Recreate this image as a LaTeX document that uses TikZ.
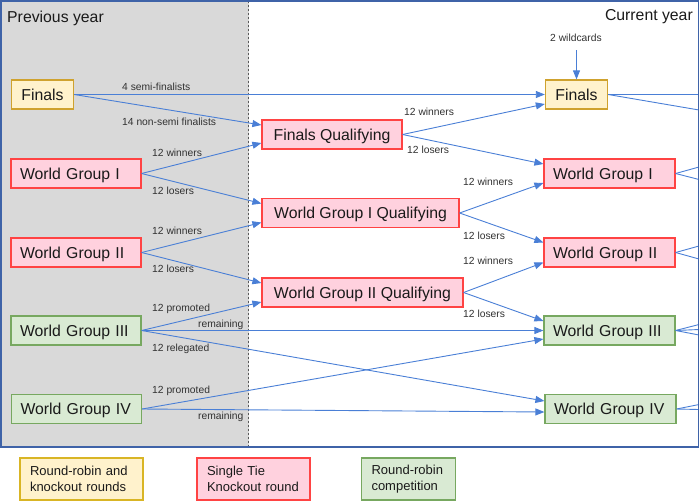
\documentclass[tikz,border=0pt]{standalone}
\usepackage{fontspec}
\setmainfont{Liberation Sans}
\usetikzlibrary{arrows.meta,calc}
\definecolor{framec}{HTML}{3F63A8}
\definecolor{connc}{HTML}{4A7FD6}
\definecolor{grayfill}{HTML}{D9D9D9}
\definecolor{yfill}{HTML}{FFF2CC}
\definecolor{ydraw}{HTML}{CFA22E}
\definecolor{pfill}{HTML}{FFD1DE}
\definecolor{pdraw}{HTML}{FF4343}
\definecolor{gfill}{HTML}{D9EAD3}
\definecolor{gdraw}{HTML}{77A860}
\definecolor{txt}{HTML}{1A1A1A}
\begin{document}
\begin{tikzpicture}[x=1pt,y=-1pt,
  box/.style={draw, line width=1.2pt, inner xsep=10pt, inner ysep=0pt,
    minimum height=29pt, text height=11.3pt, text depth=0pt,
    font=\fontsize{15.8}{18}\selectfont, text=txt},
  ybox/.style={box, fill=yfill, draw=ydraw},
  pbox/.style={box, fill=pfill, draw=pdraw},
  gbox/.style={box, fill=gfill, draw=gdraw},
  wg/.style={inner xsep=9pt, text width=112pt, align=left},
  cwg/.style={inner xsep=9pt, text width=113pt, align=left},
  legend/.style={draw, line width=1.2pt, inner xsep=10pt, inner ysep=0pt,
    minimum height=42pt, align=left, font=\fontsize{13}{16}\selectfont, text=txt},
  lbl/.style={inner sep=0pt, text height=7.5pt, text depth=0pt,
    font=\fontsize{10.3}{12}\selectfont, text=txt!90},
  conn/.style={draw=connc, line width=0.9pt, -{Triangle[length=9pt,width=7pt]}},
  exitline/.style={draw=connc, line width=0.9pt},
  title/.style={inner sep=0pt, font=\fontsize{15.8}{18}\selectfont, text=txt}
]
\useasboundingbox (0,0) rectangle (700,501);
% background areas
\fill[grayfill] (1,1) rectangle (248.5,447);
\draw[gray!70!black, line width=0.9pt, dash pattern=on 2pt off 2pt] (248.5,1) -- (248.5,447);

% titles
\node[title, anchor=base west] (tprev) at (7,22) {Previous year};
\node[title, anchor=base east] (tcur) at (693,20.5) {Current year};

% previous year
\node[ybox] (pFin) at (42.5,94.5) {Finals};
\node[pbox, wg] (pWG1) at (76,173.5) {World Group I};
\node[pbox, wg] (pWG2) at (76,252.5) {World Group II};
\node[gbox, wg] (pWG3) at (76,330.5) {World Group III};
\node[gbox, wg] (pWG4) at (76.5,409) {World Group IV};

% qualifying
\node[pbox, minimum width=140pt] (FQ) at (332,134.5) {Finals Qualifying};
\node[pbox, minimum width=197pt] (Q1) at (360.5,213) {World Group I Qualifying};
\node[pbox, minimum width=201pt] (Q2) at (362.5,292.5) {World Group II Qualifying};

% current year
\node[ybox] (cFin) at (576.5,94.5) {Finals};
\node[pbox, cwg] (cWG1) at (609.5,173.5) {World Group I};
\node[pbox, cwg] (cWG2) at (609.5,252.5) {World Group II};
\node[gbox, cwg] (cWG3) at (609.5,330.5) {World Group III};
\node[gbox, cwg] (cWG4) at (610.5,409) {World Group IV};

% wildcards
\node[lbl, anchor=west] (wild) at (550,38) {2 wildcards};
\coordinate (wildtop) at (576.5,50);
\draw[conn] (wildtop) -- (cFin.north);

% connectors previous -> current
\draw[conn] (pFin.east) -- (cFin.west);
\draw[conn] (pFin.east) -- ($(FQ.west)+(0,-9.5)$);
\draw[conn] (pWG1.east) -- ($(FQ.west)+(0,8.5)$);
\draw[conn] (pWG1.east) -- ($(Q1.west)+(0,-9.5)$);
\draw[conn] (pWG2.east) -- ($(Q1.west)+(0,9.5)$);
\draw[conn] (pWG2.east) -- ($(Q2.west)+(0,-9.5)$);
\draw[conn] (pWG3.east) -- ($(Q2.west)+(0,9.5)$);
\draw[conn] (pWG3.east) -- (cWG3.west);
\draw[conn] (pWG3.east) -- ($(cWG4.west)+(0,-8)$);
\draw[conn] (pWG4.east) -- ($(cWG3.west)+(0,8.5)$);
\draw[conn] (pWG4.east) -- ($(cWG4.west)+(0,3)$);
\draw[conn] (FQ.east) -- ($(cFin.west)+(0,9.5)$);
\draw[conn] (FQ.east) -- ($(cWG1.west)+(0,-9.5)$);
\draw[conn] (Q1.east) -- ($(cWG1.west)+(0,9.5)$);
\draw[conn] (Q1.east) -- ($(cWG2.west)+(0,-10)$);
\draw[conn] (Q2.east) -- ($(cWG2.west)+(0,10)$);
\draw[conn] (Q2.east) -- ($(cWG3.west)+(0,-9.5)$);

% labels
\node[lbl, anchor=west] (l1) at (122,87) {4 semi-finalists};
\node[lbl, anchor=west] (l2) at (122,122) {14 non-semi finalists};
\node[lbl, anchor=west] (l3) at (152,153) {12 winners};
\node[lbl, anchor=west] (l4) at (152,191) {12 losers};
\node[lbl, anchor=west] (l5) at (152,231) {12 winners};
\node[lbl, anchor=west] (l6) at (152,269) {12 losers};
\node[lbl, anchor=west] (l7) at (152,308) {12 promoted};
\node[lbl, anchor=west] (l8) at (198,324) {remaining};
\node[lbl, anchor=west] (l9) at (152,348) {12 relegated};
\node[lbl, anchor=west] (l10) at (152,390) {12 promoted};
\node[lbl, anchor=west] (l11) at (198,416) {remaining};
\node[lbl, anchor=west] (l12) at (404,112) {12 winners};
\node[lbl, anchor=west] (l13) at (407,150) {12 losers};
\node[lbl, anchor=west] (l14) at (463,182) {12 winners};
\node[lbl, anchor=west] (l15) at (463,236) {12 losers};
\node[lbl, anchor=west] (l16) at (463,261) {12 winners};
\node[lbl, anchor=west] (l17) at (463,314) {12 losers};

% lines leaving to the next year
\coordinate (e1) at (699,94.5);
\coordinate (e2) at (699,110);
\coordinate (e3) at (699,167);
\coordinate (e4) at (699,179.5);
\coordinate (e5) at (699,246);
\coordinate (e6) at (699,259);
\coordinate (e7) at (699,324.5);
\coordinate (e8) at (699,329.5);
\coordinate (e9) at (699,335);
\coordinate (e10) at (699,404.5);
\coordinate (e11) at (699,409.5);
\draw[exitline] (cFin.east) -- (e1);
\draw[exitline] (cFin.east) -- (e2);
\draw[exitline] (cWG1.east) -- (e3);
\draw[exitline] (cWG1.east) -- (e4);
\draw[exitline] (cWG2.east) -- (e5);
\draw[exitline] (cWG2.east) -- (e6);
\draw[exitline] (cWG3.east) -- (e7);
\draw[exitline] (cWG3.east) -- (e8);
\draw[exitline] (cWG3.east) -- (e9);
\draw[exitline] (cWG4.east) -- (e10);
\draw[exitline] (cWG4.east) -- (e11);

% frame
\draw[framec, line width=1.5pt] (1,1) rectangle (698.5,447);

% legend
\node[legend, fill=yfill, draw=ydraw!80!yellow, text width=103pt] (lg1) at (81.5,479) {Round-robin and\\knockout rounds};
\node[legend, fill=pfill, draw=pdraw, text width=93pt] (lg2) at (253.5,479) {Single Tie\\Knockout round};
\node[legend, fill=gfill, draw=gdraw, text width=74pt] (lg3) at (408.5,479) {Round-robin\\competition};
\end{tikzpicture}
\end{document}
